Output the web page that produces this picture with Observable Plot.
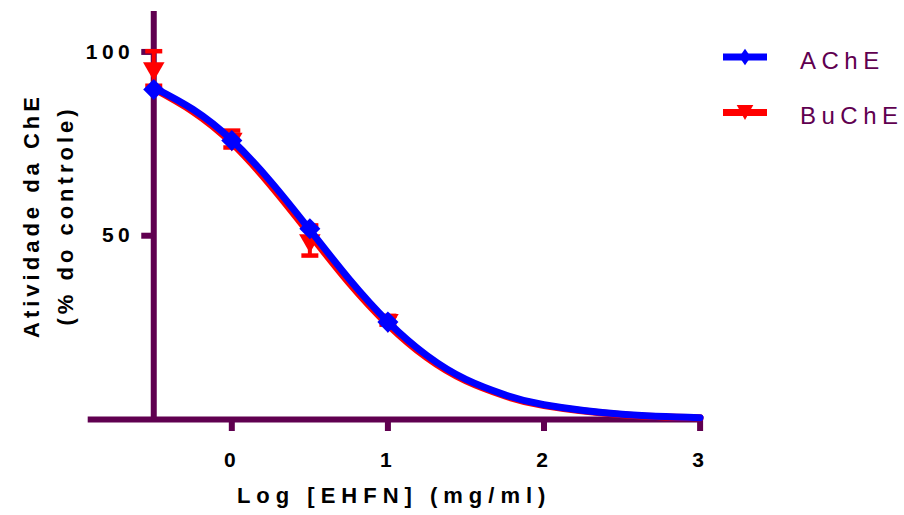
<!DOCTYPE html>
<html><head><meta charset="utf-8">
<script src="https://cdn.jsdelivr.net/npm/d3@7"></script>
<script src="https://cdn.jsdelivr.net/npm/@observablehq/plot@0.6"></script>
<style>
body{margin:0;background:#fff;}
#wrap{position:relative;width:904px;height:515px;font-family:"Liberation Sans",Arial,Helvetica,sans-serif;}
#wrap svg{position:absolute;left:0;top:0;}
</style></head><body><div id="wrap"></div>
<script>
// ---- data ----
const doses = [-0.5, 0, 0.5, 1];               // Log [EHFN]
const acheMean = [89.8, 75.9, 51.9, 26.5];
const bucheMean = [95.5, 76.3, 48.7, 27.0];
const bucheErr = [4.7, 2.3, 4.1, 1.2];
const curveX = [-0.5, -0.25, 0, 0.25, 0.5, 0.75, 1, 1.25, 1.5, 1.75, 2, 2.5, 3];
const acheCurve = [90.3, 84.4, 76.0, 64.7, 51.6, 38.3, 26.6, 17.4, 10.9, 6.7, 4.0, 1.4, 0.5];
const bucheCurve = [90.0, 83.8, 75.2, 63.6, 50.4, 37.2, 25.8, 16.8, 10.5, 6.4, 3.8, 1.3, 0.5];
const xTicks = [0, 1, 2, 3];
const yTicks = [50, 100];
const seriesNames = ["AChE", "BuChE"];
const seriesColors = ["#0000ff", "#ff0000"];
const xTitle = "Log [EHFN] (mg/ml)";
const yTitle = "Atividade da ChE\n(% do controle)";

// ---- build ----
const AX = "#600050";
const FONT = '"Liberation Sans", Arial, Helvetica, sans-serif';
const xDomain = [-0.92, 3], yDomain = [0, 111];
const W = 904, H = 515, mL = 87.7, mR = 204.4, mT = 11, mB = 96;
const yAxisAt = -0.5;
const yAxisDx = (yAxisAt - xDomain[0]) / (xDomain[1] - xDomain[0]) * (W - mL - mR);

const ache = doses.map((x, i) => ({x, y: acheMean[i]}));
const buche = doses.map((x, i) => ({x, y: bucheMean[i], lo: bucheMean[i] - bucheErr[i], hi: bucheMean[i] + bucheErr[i]}));
const acheLine = curveX.map((x, i) => ({x, y: acheCurve[i]}));
const bucheLine = curveX.map((x, i) => ({x, y: bucheCurve[i]}));

const capSymbol = {draw(ctx, size) { const w = Math.sqrt(size / Math.PI); ctx.moveTo(-w, 0); ctx.lineTo(w, 0); }};

const plot = Plot.plot({
  width: W, height: H,
  marginLeft: mL, marginRight: mR, marginTop: mT, marginBottom: mB,
  style: {fontFamily: FONT, background: "transparent", overflow: "visible"},
  x: {domain: xDomain},
  y: {domain: yDomain},
  marks: [
    Plot.ruleY([0], {stroke: AX, strokeWidth: 6}),
    Plot.ruleX([yAxisAt], {stroke: AX, strokeWidth: 6}),
    Plot.axisX({ticks: xTicks, tickSize: 12, tickPadding: 21, stroke: AX, strokeWidth: 6, fill: "black",
      fontSize: 21, fontWeight: "bold", label: null, tickFormat: d3.format("d")}),
    Plot.axisY({ticks: yTicks, tickSize: 12, tickPadding: 7.5, dx: yAxisDx, stroke: AX, strokeWidth: 6, fill: "black",
      fontSize: 21, fontWeight: "bold", label: null, tickFormat: d3.format("d")}),
    // BuChE
    Plot.ruleX(buche, {x: "x", y1: "lo", y2: "hi", stroke: seriesColors[1], strokeWidth: 4}),
    Plot.dot(buche, {x: "x", y: "lo", symbol: capSymbol, r: 8.5, stroke: seriesColors[1], strokeWidth: 4.5, fill: "none"}),
    Plot.dot(buche, {x: "x", y: "hi", symbol: capSymbol, r: 8.5, stroke: seriesColors[1], strokeWidth: 4.5, fill: "none"}),
    Plot.line(bucheLine, {x: "x", y: "y", stroke: seriesColors[1], strokeWidth: 7, curve: "natural"}),
    Plot.dot(buche, {x: "x", y: "y", symbol: "triangle", rotate: 180, r: 8, fill: seriesColors[1], stroke: "none"}),
    // AChE
    Plot.line(acheLine, {x: "x", y: "y", stroke: seriesColors[0], strokeWidth: 7, curve: "natural"}),
    Plot.dot(ache, {x: "x", y: "y", symbol: "diamond2", r: 9.5, fill: seriesColors[0], stroke: "none"}),
    // titles
    Plot.text([xTitle], {frameAnchor: "bottom", dy: 83, fontSize: 22, fontWeight: "bold", fill: "black"}),
    Plot.text([yTitle], {frameAnchor: "left", textAnchor: "middle", dx: -43, rotate: -90, lineHeight: 1.55, fontSize: 22, fontWeight: "bold", fill: "black"})
  ]
});

const svg = d3.select(plot);
svg.selectAll('g[aria-label="x-axis tick label"] text').style("letter-spacing", "4px");
svg.selectAll('g[aria-label="y-axis tick label"] text').style("letter-spacing", "4.5px");
const textGroups = svg.selectAll('g[aria-label="text"]').nodes();
d3.select(textGroups[0]).selectAll("text").style("letter-spacing", "6px");
d3.select(textGroups[1]).selectAll("text").style("letter-spacing", "4px");

document.getElementById("wrap").appendChild(plot);

// ---- legend (right side) ----
const leg = d3.select("#wrap").append("svg").attr("width", W).attr("height", H).style("pointer-events", "none");
seriesNames.forEach((name, i) => {
  const cy = 57 + i * 55.4;
  const g = leg.append("g");
  g.append("line").attr("x1", 723).attr("x2", 767).attr("y1", cy).attr("y2", cy)
    .attr("stroke", seriesColors[i]).attr("stroke-width", 7);
  if (i === 0) {
    g.append("path").attr("d", `M745,${cy - 8.2}L750.7,${cy}L745,${cy + 8.2}L739.3,${cy}Z`).attr("fill", seriesColors[i]);
  } else {
    g.append("path").attr("d", `M736.7,${cy - 7.4}L753.3,${cy - 7.4}L745,${cy + 7.6}Z`).attr("fill", seriesColors[i]);
  }
  g.append("text").attr("x", 800).attr("y", cy + 11.5).text(name)
    .attr("fill", AX).attr("font-size", 24).attr("font-family", FONT).style("letter-spacing", "5.5px");
});
</script>
</body></html>
